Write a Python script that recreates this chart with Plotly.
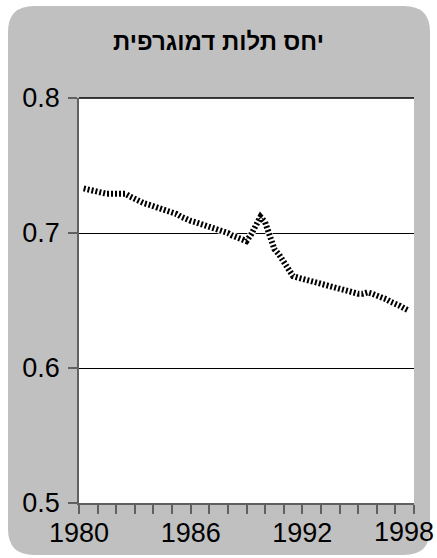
import plotly.graph_objects as go

title_text = "יחס תלות דמוגרפית"

years = [1980.25, 1980.5, 1980.75, 1981.0, 1981.25, 1981.5, 1981.75, 1982.0,
         1982.25, 1982.5, 1982.75, 1983.0, 1983.25, 1983.5, 1983.75, 1984.0,
         1984.25, 1984.5, 1984.75, 1985.0, 1985.25, 1985.5, 1985.75, 1986.0,
         1986.25, 1986.5, 1986.75, 1987.0, 1987.25, 1987.5, 1987.75, 1988.0,
         1988.25, 1988.5, 1988.75, 1989.0, 1989.25, 1989.5, 1989.75, 1990.0,
         1990.25, 1990.5, 1990.75, 1991.0, 1991.25, 1991.5, 1991.75, 1992.0,
         1992.25, 1992.5, 1992.75, 1993.0, 1993.25, 1993.5, 1993.75, 1994.0,
         1994.25, 1994.5, 1994.75, 1995.0, 1995.25, 1995.5, 1995.75, 1996.0,
         1996.25, 1996.5, 1996.75, 1997.0, 1997.25, 1997.5, 1997.65]
ratio = [0.733, 0.732, 0.731, 0.730, 0.729, 0.729, 0.729, 0.729,
         0.728, 0.729, 0.727, 0.725, 0.723, 0.722, 0.721, 0.720,
         0.719, 0.718, 0.716, 0.715, 0.714, 0.712, 0.710, 0.709,
         0.708, 0.707, 0.706, 0.705, 0.704, 0.703, 0.701, 0.700,
         0.698, 0.697, 0.695, 0.694, 0.699, 0.706, 0.712, 0.708,
         0.697, 0.688, 0.684, 0.679, 0.673, 0.668, 0.667, 0.666,
         0.665, 0.664, 0.663, 0.662, 0.661, 0.660, 0.659, 0.658,
         0.657, 0.656, 0.656, 0.655, 0.655, 0.656, 0.655, 0.654,
         0.652, 0.651, 0.649, 0.648, 0.646, 0.644, 0.643]

x_tick_vals = list(range(1980, 1999))
x_label_years = [1980, 1986, 1992, 1998]
y_tick_vals = [0.5, 0.6, 0.7, 0.8]
y_tick_text = ["0.5", "0.6", "0.7", "0.8"]

last_year = x_label_years[-1]
x_tick_text = [str(v) if (v in x_label_years and v != last_year) else ""
               for v in x_tick_vals]

fig = go.Figure()
fig.add_trace(go.Scatter(x=years, y=ratio, mode="lines",
                         line=dict(color="white", width=7),
                         hoverinfo="skip", showlegend=False))
fig.add_trace(go.Scatter(x=years, y=ratio, mode="lines",
                         line=dict(color="black", width=6, dash="2px,2px"),
                         showlegend=False))

# rounded gray panel (paper coords)
W, H = 437, 558
l, r, t, b = 79, 23, 98, 55
pw, ph = W - l - r, H - t - b
def px(x):
    return (x - l) / pw
def py(y):
    return (H - b - y) / ph
x0, x1, y0, y1, rad = 8, 430, 6, 555, 26
path = (f"M {px(x0+rad)},{py(y0)} L {px(x1-rad)},{py(y0)} "
        f"Q {px(x1)},{py(y0)} {px(x1)},{py(y0+rad)} "
        f"L {px(x1)},{py(y1-rad)} Q {px(x1)},{py(y1)} {px(x1-rad)},{py(y1)} "
        f"L {px(x0+rad)},{py(y1)} Q {px(x0)},{py(y1)} {px(x0)},{py(y1-rad)} "
        f"L {px(x0)},{py(y0+rad)} Q {px(x0)},{py(y0)} {px(x0+rad)},{py(y0)} Z")

fig.update_layout(
    width=W, height=H,
    margin=dict(l=l, r=r, t=t, b=b, autoexpand=False),
    paper_bgcolor="white",
    plot_bgcolor="white",
    font=dict(family="Liberation Sans, Arial, DejaVu Sans", color="black"),
    title=dict(text="<b>" + title_text + "</b>", xref="container", x=0.5,
               xanchor="center", yref="container", y=1 - 42 / H,
               yanchor="middle", font=dict(size=24, color="black")),
    shapes=[dict(type="path", path=path, xref="paper", yref="paper",
                 fillcolor="#C0C0C0", line=dict(width=0), layer="below"),
            dict(type="rect", xref="paper", yref="paper", x0=0, x1=1,
                 y0=0, y1=1, fillcolor="white", line=dict(width=0),
                 layer="below"),
            dict(type="line", xref="paper", yref="paper", x0=0, x1=1,
                 y0=1, y1=1, line=dict(color="black", width=1.5))],
    annotations=[dict(text=str(last_year), x=last_year, xref="x", y=0,
                      yref="paper", xanchor="center", yanchor="top",
                      xshift=-10, yshift=-12, showarrow=False,
                      font=dict(size=27, color="black"))],
    xaxis=dict(range=[1980, 1998], tickmode="array", tickvals=x_tick_vals,
               ticktext=x_tick_text, ticks="outside", ticklen=9,
               tickcolor="#606060", tickwidth=1.5, showgrid=False,
               showline=True, linecolor="#606060", linewidth=1.5,
               tickfont=dict(size=27), zeroline=False, fixedrange=True,
               automargin=False, ticklabeloverflow="allow",
               ticklabelstandoff=-4, layer="above traces"),
    yaxis=dict(range=[0.5, 0.8], tickmode="array", tickvals=y_tick_vals,
               ticktext=y_tick_text, ticks="outside", ticklen=9,
               tickcolor="#606060", tickwidth=1.5, showgrid=True,
               gridcolor="black", gridwidth=1,
               showline=True, linecolor="#606060", linewidth=1.5,
               tickfont=dict(size=27), zeroline=False, fixedrange=True,
               automargin=False, ticklabelstandoff=3),
)

fig.write_html("out.html",
               config={"displayModeBar": False},
               post_script="document.body.style.margin='0px';"
                           "document.body.style.overflow='hidden';")
